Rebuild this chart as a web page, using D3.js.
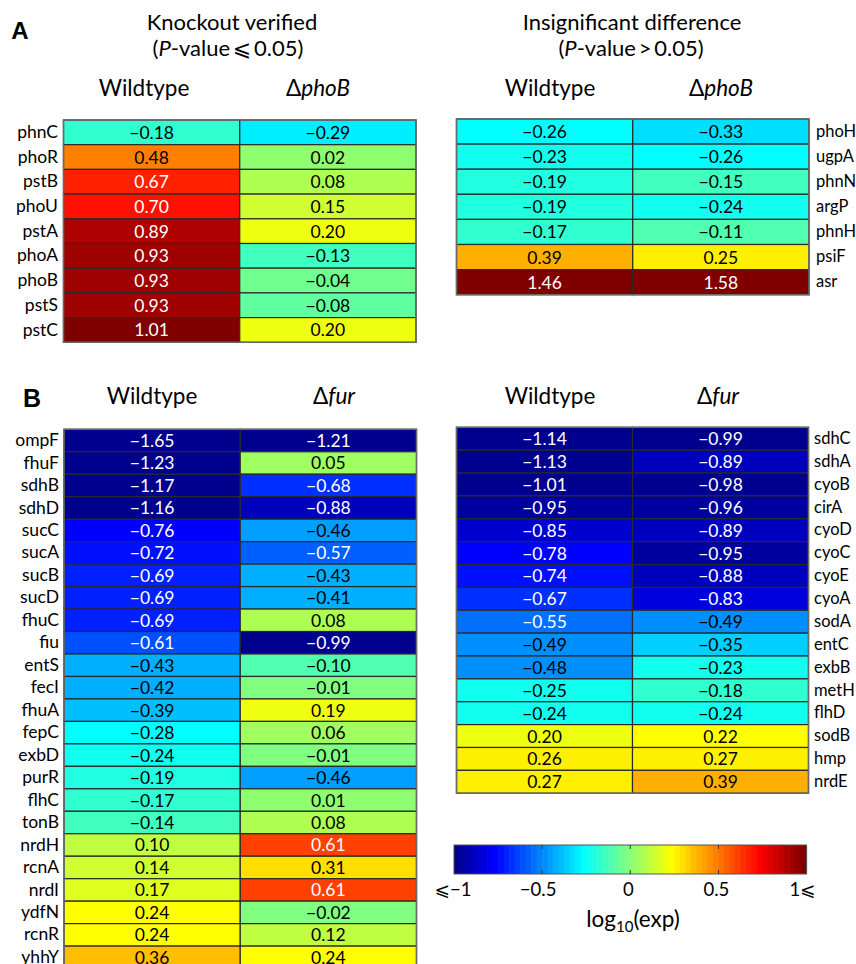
<!DOCTYPE html>
<html>
<head>
<meta charset="utf-8">
<script src="https://cdn.jsdelivr.net/npm/d3@7"></script>
<style>
  html, body { margin: 0; padding: 0; background: #fff; }
  svg { display: block; }
  text { font-family: Lato, "Open Sans", "DejaVu Sans", sans-serif; fill: #000; }
</style>
</head>
<body>
<svg id="chart" width="856" height="964"></svg>
<script>
// ---------- DATA ----------
const genesA1 = ["phnC","phoR","pstB","phoU","pstA","phoA","phoB","pstS","pstC"];
const wtA1    = [-0.18, 0.48, 0.67, 0.70, 0.89, 0.93, 0.93, 0.93, 1.01];
const koA1    = [-0.29, 0.02, 0.08, 0.15, 0.20, -0.13, -0.04, -0.08, 0.20];

const genesA2 = ["phoH","ugpA","phnN","argP","phnH","psiF","asr"];
const wtA2    = [-0.26, -0.23, -0.19, -0.19, -0.17, 0.39, 1.46];
const koA2    = [-0.33, -0.26, -0.15, -0.24, -0.11, 0.25, 1.58];

const genesB1 = ["ompF","fhuF","sdhB","sdhD","sucC","sucA","sucB","sucD","fhuC","fiu","entS","fecI",
                 "fhuA","fepC","exbD","purR","flhC","tonB","nrdH","rcnA","nrdI","ydfN","rcnR","yhhY"];
const wtB1    = [-1.65, -1.23, -1.17, -1.16, -0.76, -0.72, -0.69, -0.69, -0.69, -0.61, -0.43, -0.42,
                 -0.39, -0.28, -0.24, -0.19, -0.17, -0.14, 0.10, 0.14, 0.17, 0.24, 0.24, 0.36];
const koB1    = [-1.21, 0.05, -0.68, -0.88, -0.46, -0.57, -0.43, -0.41, 0.08, -0.99, -0.10, -0.01,
                 0.19, 0.06, -0.01, -0.46, 0.01, 0.08, 0.61, 0.31, 0.61, -0.02, 0.12, 0.24];

const genesB2 = ["sdhC","sdhA","cyoB","cirA","cyoD","cyoC","cyoE","cyoA","sodA","entC","exbB","metH",
                 "flhD","sodB","hmp","nrdE"];
const wtB2    = [-1.14, -1.13, -1.01, -0.95, -0.85, -0.78, -0.74, -0.67, -0.55, -0.49, -0.48, -0.25,
                 -0.24, 0.20, 0.26, 0.27];
const koB2    = [-0.99, -0.89, -0.98, -0.96, -0.89, -0.95, -0.88, -0.83, -0.49, -0.35, -0.23, -0.18,
                 -0.24, 0.22, 0.27, 0.39];

const colorTicks = [-1, -0.5, 0, 0.5, 1];
const colorTickLabels = ["\u2A7D\u22121", "\u22120.5", "0", "0.5", "1\u2A7D"];

// ---------- COLOR (MATLAB jet, 64 levels, clim [-1,1]) ----------
function jet64() {
  const cl = v => Math.max(0, Math.min(1, v));
  const out = [];
  for (let i = 1; i <= 64; i++) {
    const r = cl(Math.min((i - 24) / 16, (72 - i) / 16));
    const g = cl(Math.min((i - 8) / 16, (56 - i) / 16));
    const b = cl(Math.min((i + 8) / 16, (40 - i) / 16));
    out.push(d3.rgb(r * 255, g * 255, b * 255).formatHex());
  }
  return out;
}
const color = d3.scaleQuantize().domain([-1, 1]).range(jet64());
const fmt = v => d3.format(".2f")(v).replace("-", "\u2212");

const svg = d3.select("#chart");

function heatmap(opts) {
  const { genes, wt, ko, x0, x1, y0, rowH, labelSide, labelX, labelSize } = opts;
  const cols = ["wt", "ko"];
  const x = d3.scaleBand().domain(cols).range([x0, x1]);
  const y = d3.scaleBand().domain(genes).range([y0, y0 + rowH * genes.length]);
  const g = svg.append("g");
  const cells = [];
  genes.forEach((gn, i) => {
    cells.push({ gene: gn, col: "wt", v: wt[i] });
    cells.push({ gene: gn, col: "ko", v: ko[i] });
  });
  g.selectAll("rect.cell").data(cells).join("rect")
    .attr("class", "cell")
    .attr("x", d => x(d.col)).attr("y", d => y(d.gene))
    .attr("width", x.bandwidth()).attr("height", y.bandwidth())
    .attr("fill", d => color(d.v))
    .attr("stroke", "#2a2a2a").attr("stroke-width", 1.2);
  g.selectAll("text.val").data(cells).join("text")
    .attr("class", "val")
    .attr("x", d => x(d.col) + x.bandwidth() / 2)
    .attr("y", d => y(d.gene) + y.bandwidth() / 2)
    .attr("dy", "0.37em")
    .attr("text-anchor", "middle")
    .attr("font-size", 17.5)
    .style("fill", d => (d.v < -0.5 || d.v > 0.5) ? "#fff" : "#000")
    .text(d => fmt(d.v));
  g.append("rect")
    .attr("x", x0).attr("y", y0)
    .attr("width", x1 - x0).attr("height", rowH * genes.length)
    .attr("fill", "none").attr("stroke", "#6a6a6a").attr("stroke-width", 1.5);
  const axis = labelSide === "left" ? d3.axisLeft(y) : d3.axisRight(y);
  const ag = g.append("g")
    .attr("transform", `translate(${labelX},0)`)
    .call(axis.tickSize(0).tickPadding(0));
  ag.select(".domain").remove();
  ag.selectAll("text")
    .attr("font-size", labelSize)
    .attr("font-family", "Lato, 'Open Sans', sans-serif")
    .style("fill", "#000");
}

heatmap({ genes: genesA1, wt: wtA1, ko: koA1, x0: 63.5, x1: 416, y0: 120, rowH: 24.7, labelSide: "left", labelX: 58, labelSize: 17.5 });
heatmap({ genes: genesA2, wt: wtA2, ko: koA2, x0: 456.5, x1: 809, y0: 119, rowH: 25.1, labelSide: "right", labelX: 816, labelSize: 16.5 });
heatmap({ genes: genesB1, wt: wtB1, ko: koB1, x0: 64, x1: 416.5, y0: 429.3, rowH: 22.47, labelSide: "left", labelX: 59, labelSize: 17.5 });
heatmap({ genes: genesB2, wt: wtB2, ko: koB2, x0: 456.5, x1: 808.5, y0: 427.3, rowH: 22.87, labelSide: "right", labelX: 814, labelSize: 16.5 });

// ---------- TEXT ----------
function txt(x, y, size, anchor, parts, weight, family) {
  const t = svg.append("text").attr("x", x).attr("y", y)
    .attr("font-size", size).attr("text-anchor", anchor);
  if (weight) t.attr("font-weight", weight);
  if (family) t.style("font-family", family);
  parts.forEach(p => {
    const s = t.append("tspan").text(p.t);
    if (p.i) s.attr("font-style", "italic");
  });
  return t;
}

txt(20, 39, 24, "middle", [{ t: "A" }], "bold", "Arial, 'Liberation Sans', sans-serif");
txt(32, 407, 25, "middle", [{ t: "B" }], "bold", "Arial, 'Liberation Sans', sans-serif");

txt(232, 29.5, 22, "middle", [{ t: "Knockout verified" }]);
txt(228, 56, 22, "middle", [{ t: "(" }, { t: "P", i: true }, { t: "-value\u2009\u2A7D\u20090.05)" }]);
txt(632, 29.5, 22, "middle", [{ t: "Insignificant difference" }]);
txt(631, 56, 22, "middle", [{ t: "(" }, { t: "P", i: true }, { t: "-value\u2009>\u20090.05)" }]);

txt(144, 96, 22.5, "middle", [{ t: "Wildtype" }]);
txt(318, 96, 22.5, "middle", [{ t: "\u0394" }, { t: "phoB", i: true }]);
txt(550, 96, 22.5, "middle", [{ t: "Wildtype" }]);
txt(721, 96, 22.5, "middle", [{ t: "\u0394" }, { t: "phoB", i: true }]);

txt(152, 404, 22.5, "middle", [{ t: "Wildtype" }]);
txt(334, 404, 22.5, "middle", [{ t: "\u0394" }, { t: "fur", i: true }]);
txt(550, 404, 22.5, "middle", [{ t: "Wildtype" }]);
txt(718, 404, 22.5, "middle", [{ t: "\u0394" }, { t: "fur", i: true }]);

// ---------- COLORBAR ----------
const cbX0 = 454, cbX1 = 806.5, cbY = 845, cbH = 29;
const cx = d3.scaleLinear().domain([-1, 1]).range([cbX0, cbX1]);
const cb = svg.append("g");
const levels = color.range();
const step = 2 / levels.length;
cb.selectAll("rect").data(levels).join("rect")
  .attr("x", (d, i) => cx(-1 + i * step))
  .attr("y", cbY)
  .attr("width", (cbX1 - cbX0) / levels.length + 0.6)
  .attr("height", cbH)
  .attr("fill", d => d);
cb.append("rect").attr("x", cbX0).attr("y", cbY).attr("width", cbX1 - cbX0).attr("height", cbH)
  .attr("fill", "none").attr("stroke", "#555").attr("stroke-width", 1);
const inner = [-0.5, 0, 0.5];
cb.selectAll("line.t1").data(inner).join("line")
  .attr("x1", d => cx(d)).attr("x2", d => cx(d)).attr("y1", cbY).attr("y2", cbY + 4)
  .attr("stroke", "#333");
cb.selectAll("line.t2").data(inner).join("line")
  .attr("x1", d => cx(d)).attr("x2", d => cx(d)).attr("y1", cbY + cbH - 4).attr("y2", cbY + cbH)
  .attr("stroke", "#333");
cb.selectAll("text.tick").data(colorTicks).join("text")
  .attr("class", "tick")
  .attr("x", (d, i) => i === 0 ? cx(d) - 1 : (i === colorTicks.length - 1 ? cx(d) - 4 : cx(d) - (d < 0 ? 4 : 2)))
  .attr("y", 896)
  .attr("font-size", 18.5)
  .attr("text-anchor", "middle")
  .text((d, i) => colorTickLabels[i]);

const lg = svg.append("text").attr("x", 633).attr("y", 927).attr("font-size", 22.5).attr("text-anchor", "middle");
lg.append("tspan").text("log");
lg.append("tspan").text("10").attr("font-size", 15).attr("dy", 5);
lg.append("tspan").text("(exp)").attr("dy", -5);
</script>
</body>
</html>
